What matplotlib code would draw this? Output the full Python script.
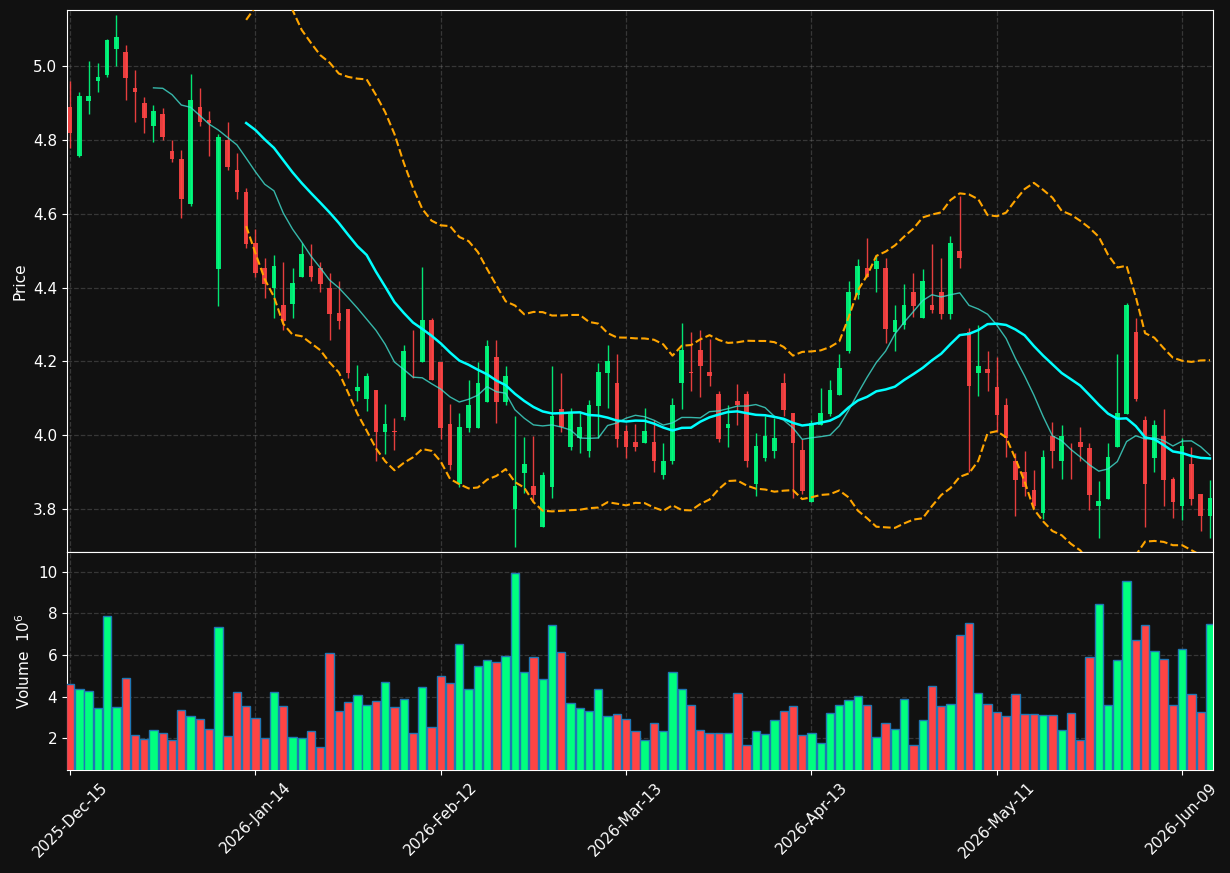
import numpy as np
import pandas as pd
import matplotlib
matplotlib.use("Agg")
import matplotlib.pyplot as plt

# OHLC, one value per trading day
opens = [4.889, 4.758, 4.907, 4.959, 4.977, 5.048, 5.038, 4.941, 4.901, 4.839, 4.871, 4.771, 4.749, 4.628, 4.890, 4.855, 4.450, 4.801, 4.720, 4.660,
         4.520, 4.452, 4.398, 4.352, 4.357, 4.429, 4.460, 4.452, 4.400, 4.330, 4.341, 4.119, 4.098, 4.122, 4.008, 4.012, 4.049, 4.202, 4.199, 4.311,
         4.199, 4.030, 3.869, 4.020, 4.020, 4.090, 4.211, 4.090, 3.800, 3.898, 3.863, 3.750, 3.861, 4.070, 3.969, 3.992, 3.958, 4.080, 4.169, 4.141,
         4.011, 3.981, 3.980, 3.981, 3.891, 3.929, 4.141, 4.172, 4.230, 4.172, 4.111, 4.020, 4.092, 4.111, 3.869, 3.938, 3.957, 4.141, 4.060, 3.960,
         3.820, 4.027, 4.058, 4.110, 4.227, 4.380, 4.452, 4.450, 4.452, 4.281, 4.300, 4.389, 4.319, 4.352, 4.389, 4.328, 4.500, 4.281, 4.170, 4.180,
         4.131, 4.082, 3.930, 3.900, 3.851, 3.790, 3.999, 3.929, 3.953, 3.981, 3.965, 3.809, 3.828, 3.969, 4.058, 4.281, 4.040, 3.938, 3.999, 3.882,
         3.809, 3.922, 3.842, 3.781]
closes = [4.819, 4.920, 4.920, 4.971, 5.071, 5.078, 4.969, 4.929, 4.859, 4.879, 4.807, 4.748, 4.639, 4.909, 4.848, 4.845, 4.809, 4.727, 4.659, 4.518,
          4.439, 4.410, 4.460, 4.309, 4.412, 4.490, 4.429, 4.410, 4.328, 4.309, 4.169, 4.131, 4.160, 4.008, 4.030, 4.010, 4.229, 4.200, 4.311, 4.150,
          4.021, 3.919, 4.023, 4.082, 4.141, 4.242, 4.090, 4.160, 3.863, 3.922, 3.839, 3.891, 4.051, 4.023, 4.062, 4.023, 4.082, 4.171, 4.200, 3.991,
          3.969, 3.969, 4.012, 3.929, 3.930, 4.082, 4.230, 4.170, 4.188, 4.160, 3.990, 4.030, 4.082, 3.929, 3.971, 3.999, 3.992, 4.068, 3.980, 3.849,
          4.032, 4.060, 4.122, 4.181, 4.389, 4.460, 4.429, 4.471, 4.288, 4.311, 4.352, 4.350, 4.419, 4.339, 4.329, 4.520, 4.480, 4.133, 4.189, 4.169,
          4.055, 3.992, 3.880, 3.861, 3.809, 3.940, 3.957, 3.999, 3.951, 3.969, 3.839, 3.822, 3.940, 4.060, 4.352, 4.098, 3.869, 4.029, 3.880, 3.820,
          3.971, 3.828, 3.781, 3.830]
highs = [4.960, 4.930, 5.014, 5.008, 5.073, 5.138, 5.059, 4.989, 4.918, 4.894, 4.888, 4.800, 4.773, 4.979, 4.941, 4.879, 4.817, 4.850, 4.765, 4.671,
         4.558, 4.481, 4.488, 4.469, 4.452, 4.520, 4.519, 4.469, 4.439, 4.417, 4.341, 4.190, 4.170, 4.122, 4.086, 4.046, 4.245, 4.286, 4.455, 4.319,
         4.199, 4.086, 4.060, 4.151, 4.199, 4.259, 4.259, 4.189, 4.051, 3.994, 3.999, 3.900, 4.189, 4.170, 4.074, 4.067, 4.095, 4.195, 4.245, 4.220,
         4.027, 4.030, 4.074, 4.041, 3.980, 4.101, 4.304, 4.281, 4.286, 4.262, 4.121, 4.082, 4.140, 4.121, 4.005, 4.051, 4.046, 4.170, 4.060, 3.990,
         4.041, 4.129, 4.151, 4.221, 4.417, 4.477, 4.535, 4.488, 4.480, 4.353, 4.410, 4.441, 4.450, 4.518, 4.481, 4.539, 4.648, 4.290, 4.300, 4.229,
         4.211, 4.101, 3.952, 3.956, 3.905, 3.959, 4.035, 4.027, 3.980, 4.022, 3.980, 3.875, 3.980, 4.220, 4.358, 4.319, 4.051, 4.040, 4.070, 3.886,
         3.992, 3.969, 3.842, 3.879]
lows = [4.779, 4.755, 4.870, 4.930, 4.970, 5.000, 4.908, 4.849, 4.819, 4.794, 4.800, 4.741, 4.589, 4.620, 4.839, 4.758, 4.350, 4.718, 4.640, 4.507,
        4.430, 4.371, 4.319, 4.286, 4.319, 4.429, 4.419, 4.389, 4.259, 4.289, 4.156, 4.093, 4.065, 3.929, 3.950, 3.959, 4.040, 4.156, 4.199, 4.150,
        3.990, 3.905, 3.861, 4.010, 4.020, 4.090, 4.034, 4.082, 3.698, 3.844, 3.820, 3.750, 3.830, 4.010, 3.959, 3.952, 3.940, 3.992, 4.074, 3.969,
        3.938, 3.957, 3.980, 3.900, 3.882, 3.922, 4.070, 4.121, 4.103, 4.133, 3.981, 3.969, 4.029, 3.915, 3.835, 3.929, 3.938, 4.051, 3.830, 3.840,
        3.820, 4.027, 4.051, 4.110, 4.223, 4.370, 4.429, 4.389, 4.251, 4.229, 4.289, 4.321, 4.319, 4.330, 4.316, 4.314, 4.452, 3.900, 4.107, 4.121,
        4.008, 3.941, 3.781, 3.835, 3.802, 3.772, 3.910, 3.882, 3.882, 3.929, 3.797, 3.722, 3.828, 3.969, 4.058, 4.093, 3.750, 3.900, 3.809, 3.775,
        3.769, 3.811, 3.741, 3.722]
# volume in millions
volumes = [4.60, 4.36, 4.27, 3.43, 7.88, 3.49, 4.89, 2.14, 1.95, 2.39, 2.26, 1.90, 3.35, 3.06, 2.92, 2.43, 7.35, 2.10, 4.22, 3.54,
           2.96, 2.00, 4.22, 3.54, 2.05, 2.00, 2.34, 1.57, 6.10, 3.30, 3.73, 4.07, 3.59, 3.78, 4.70, 3.49, 3.88, 2.24, 4.46, 2.53,
           4.99, 4.65, 6.53, 4.36, 5.47, 5.76, 5.66, 5.95, 9.95, 5.16, 5.90, 4.84, 7.43, 6.14, 3.69, 3.43, 3.30, 4.36, 3.06, 3.16,
           2.92, 2.34, 1.90, 2.72, 2.34, 5.18, 4.36, 3.59, 2.39, 2.24, 2.24, 2.24, 4.17, 1.66, 2.34, 2.19, 2.87, 3.30, 3.54, 2.14,
           2.24, 1.76, 3.20, 3.59, 3.83, 4.02, 3.59, 2.05, 2.72, 2.43, 3.88, 1.66, 2.87, 4.51, 3.54, 3.64, 6.96, 7.54, 4.17, 3.64,
           3.25, 3.06, 4.12, 3.16, 3.16, 3.11, 3.11, 2.39, 3.20, 1.90, 5.90, 8.46, 3.59, 5.76, 9.57, 6.72, 7.45, 6.19, 5.81, 3.59,
           6.29, 4.12, 3.25, 7.49]

tick_pos = [0, 20, 40, 60, 80, 100, 120]
tick_labels = ['2025-Dec-15', '2026-Jan-14', '2026-Feb-12', '2026-Mar-13',
               '2026-Apr-13', '2026-May-11', '2026-Jun-09']

BG = '#111111'
UP = '#00ff7f'
DOWN = '#ff4444'

o = np.array(opens); c = np.array(closes)
h = np.array(highs); l = np.array(lows)
v = np.array(volumes)
x = np.arange(len(o))
up = c >= o
cols = np.where(up, UP, DOWN)

s = pd.Series(c)
ma10 = s.rolling(10).mean()
ma20 = s.rolling(20).mean()
sd20 = s.rolling(20).std()
bb_up = ma20 + 2 * sd20
bb_lo = ma20 - 2 * sd20

fig = plt.figure(figsize=(12.3, 8.73), dpi=100, facecolor=BG)
ax1 = fig.add_axes([0.0545, 0.3677, 0.9317, 0.6208])
ax2 = fig.add_axes([0.0545, 0.118, 0.9317, 0.2497], sharex=ax1)

for ax in (ax1, ax2):
    ax.set_facecolor(BG)
    for sp in ax.spines.values():
        sp.set_color('white')
    ax.tick_params(colors='white', labelsize=11)
    ax.grid(True, linestyle='--', color='gray', alpha=0.35, linewidth=0.9)
    ax.set_axisbelow(True)

# candles
ax1.vlines(x, l, h, color=cols, linewidth=1, alpha=0.9, zorder=2)
body = np.maximum(np.abs(c - o), 0.002)
ax1.bar(x, body, bottom=np.minimum(o, c), width=0.5, color=cols, alpha=0.9,
        linewidth=0, zorder=3)

ax1.plot(x, ma10, color='#40e0d0', linewidth=1, alpha=0.8, zorder=4)
ax1.plot(x, ma20, color='#00ffff', linewidth=1.8, zorder=4)
ax1.plot(x, bb_up, color='orange', linestyle='--', linewidth=1.5, zorder=4)
ax1.plot(x, bb_lo, color='orange', linestyle='--', linewidth=1.5, zorder=4)

rng = h.max() - l.min()
ax1.set_ylim(l.min() - 0.01 * rng, h.max() + 0.01 * rng)
ax1.set_ylabel('Price', color='white', fontsize=11)
plt.setp(ax1.get_xticklabels(), visible=False)

# volume
ax2.bar(x, v, width=0.9, color=cols, edgecolor='#1f77b4', linewidth=1, zorder=3)
ax2.set_ylim(v.min() * 0.3, v.max() * 1.1)
ax2.set_ylabel('Volume  $10^{6}$', color='white', fontsize=11)

ax2.set_xlim(-0.33, len(x) - 1 + 0.33)
ax2.set_xticks(tick_pos)
ax2.set_xticklabels(tick_labels, rotation=45)

fig.savefig('out.png', dpi=100, facecolor=BG)
